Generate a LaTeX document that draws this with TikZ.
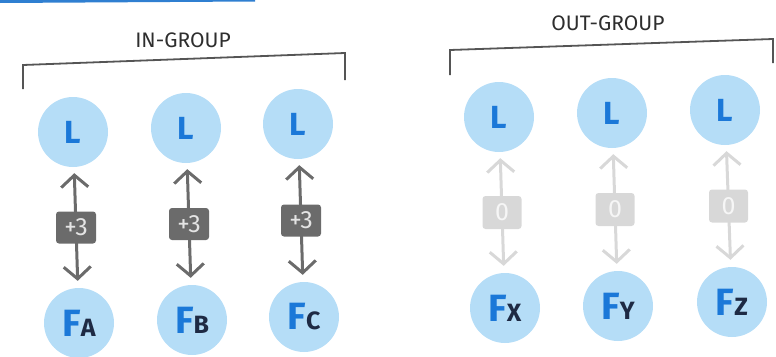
\documentclass[tikz,border=0pt]{standalone}
\usepackage{fontspec}
\setmainfont{Fira Sans}
\usetikzlibrary{arrows.meta}
\definecolor{cfill}{HTML}{B5DDF7}
\definecolor{lblue}{HTML}{1B78D8}
\definecolor{subdark}{HTML}{1E2A44}
\definecolor{headgray}{HTML}{2E2E2E}
\definecolor{brgray}{HTML}{555555}
\definecolor{ingray}{HTML}{6B6B6B}
\definecolor{intext}{HTML}{E4E4E4}
\definecolor{outgray}{HTML}{D8D8D8}
\definecolor{outtext}{HTML}{F6F6F6}
\definecolor{topblue}{HTML}{2F7FD1}
\newcommand\fsubs[1]{{\fontsize{38}{38}\selectfont F}{\color{subdark}\fontsize{25}{25}\selectfont #1}}
\begin{document}
\begin{tikzpicture}[x=1pt,y=-1pt,
  head/.style={text=headgray, font=\fontsize{21}{21}\selectfont},
  bracket/.style={draw=brgray, line width=1.8pt},
  lnode/.style={circle, fill=cfill, minimum size=70pt, inner sep=0pt, text=lblue, font=\bfseries\fontsize{32}{32}\selectfont},
  fnode/.style={circle, fill=cfill, minimum size=70pt, inner sep=0pt, text=lblue, font=\bfseries},
  tip/.tip={Straight Barb[length=12pt, width=27pt]},
  inarrow/.style={draw=ingray, line width=3pt, {tip}-{tip}, shorten <=6pt, shorten >=7pt},
  outarrow/.style={draw=outgray, line width=3pt, {tip}-{tip}, shorten <=6pt, shorten >=7pt},
  inbox/.style={fill=ingray, text=intext, rounded corners=3pt, minimum width=40pt, minimum height=32pt, inner sep=0pt, font=\fontsize{25}{25}\selectfont},
  outbox/.style={fill=outgray, text=outtext, rounded corners=3pt, minimum width=39pt, minimum height=33pt, inner sep=0pt, font=\fontsize{25}{25}\selectfont}
]
\useasboundingbox (0,0) rectangle (776,356);
% top rule
\coordinate (tl) at (0,1.5);
\coordinate (tr) at (255,0);
\draw[topblue, line width=3pt] (tl) -- (tr);
% headings
\node[head] (hin) at (183,40) {IN-GROUP};
\node[head] (hout) at (608,23) {OUT-GROUP};
% brackets
\coordinate (b1a) at (23,89);
\coordinate (b1b) at (23,65);
\coordinate (b1c) at (345,53);
\coordinate (b1d) at (345,80);
\draw[bracket] (b1a) -- (b1b) -- (b1c) -- (b1d);
\coordinate (b2a) at (450,75);
\coordinate (b2b) at (450,50);
\coordinate (b2c) at (773,39);
\coordinate (b2d) at (773,63);
\draw[bracket] (b2a) -- (b2b) -- (b2c) -- (b2d);
% leaders
\node[lnode] (L1) at (73,132) {L};
\node[lnode] (L2) at (186,128) {L};
\node[lnode] (L3) at (298,124) {L};
\node[lnode] (L4) at (499,117) {L};
\node[lnode] (L5) at (612,113) {L};
\node[lnode] (L6) at (725,110) {L};
% followers
\node[fnode] (FA) at (79,323) {\fsubs{A}};
\node[fnode] (FB) at (192,320) {\fsubs{B}};
\node[fnode] (FC) at (304,317) {\fsubs{C}};
\node[fnode] (FX) at (505,308) {\fsubs{X}};
\node[fnode] (FY) at (618,306) {\fsubs{Y}};
\node[fnode] (FZ) at (732,302) {\fsubs{Z}};
% links
\draw[inarrow] (L1) -- node[inbox] (n1) {+3} (FA);
\draw[inarrow] (L2) -- node[inbox] (n2) {+3} (FB);
\draw[inarrow] (L3) -- node[inbox] (n3) {+3} (FC);
\draw[outarrow] (L4) -- node[outbox] (n4) {0} (FX);
\draw[outarrow] (L5) -- node[outbox] (n5) {0} (FY);
\draw[outarrow] (L6) -- node[outbox] (n6) {0} (FZ);
\end{tikzpicture}
\end{document}
